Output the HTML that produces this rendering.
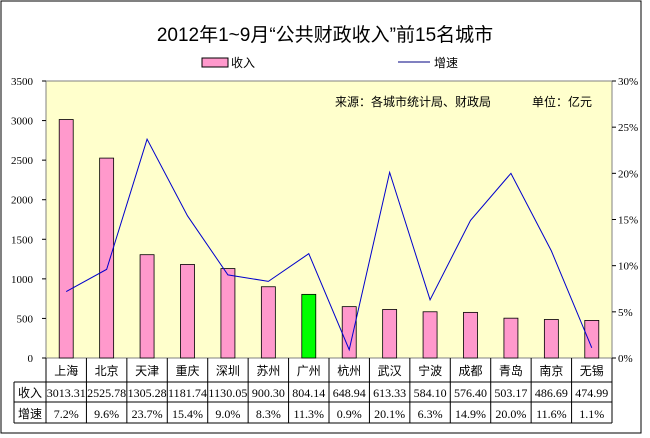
<!DOCTYPE html>
<html><head><meta charset="utf-8"><style>
body{margin:0;background:#fff;}
svg{display:block;font-family:"Liberation Sans","Noto Sans CJK SC",sans-serif;}
.s{font-family:"Liberation Serif","Noto Sans CJK SC",serif;}
</style></head><body>
<svg id="c" width="650" height="438">
<rect x="1" y="1" width="640" height="432" fill="#fff" stroke="#000"/>
<text x="325" y="41" font-size="19" text-anchor="middle">2012年1~9月“公共财政收入”前15名城市</text>
<rect x="202" y="58" width="26" height="9" fill="#ff99cc" stroke="#000"/>
<text x="231" y="67" font-size="12">收入</text>
<line x1="398" y1="62" x2="430" y2="62" stroke="#000080"/>
<text x="434" y="67" font-size="12">增速</text>
<rect x="46" y="81" width="566" height="277" fill="#ffffcc" stroke="#808080"/>
<text x="335" y="106" font-size="12">来源：各城市统计局、财政局</text>
<text x="532" y="106" font-size="12">单位：亿元</text>
<g id="g"></g>
</svg>
<script>
const cities=["上海","北京","天津","重庆","深圳","苏州","广州","杭州","武汉","宁波","成都","青岛","南京","无锡"];
const income=[3013.31,2525.78,1305.28,1181.74,1130.05,900.30,804.14,648.94,613.33,584.10,576.40,503.17,486.69,474.99];
const growth=[7.2,9.6,23.7,15.4,9.0,8.3,11.3,0.9,20.1,6.3,14.9,20.0,11.6,1.1];
const leftTicks=[0,500,1000,1500,2000,2500,3000,3500];
const rightTicks=[0,5,10,15,20,25,30];
const X0=46,X1=612,Y0=358,Y1=81,bw=(X1-X0)/cities.length;
const yL=v=>Y0-(v/3500)*(Y0-Y1), yR=v=>Y0-(v/30)*(Y0-Y1), xc=i=>X0+bw*(i+.5);
const g=document.getElementById('g'),NS="http://www.w3.org/2000/svg";
function mk(t,a,txt){const e=document.createElementNS(NS,t);for(const k in a)e.setAttribute(k,a[k]);if(txt!=null)e.textContent=txt;g.appendChild(e);return e;}
leftTicks.forEach(v=>{mk('line',{x1:X0-4,x2:X0,y1:yL(v),y2:yL(v),stroke:'#000'});
const t=mk('text',{x:33,y:yL(v)+4,'font-size':11,'text-anchor':'end',class:'s'},v);

});
rightTicks.forEach(v=>{mk('line',{x1:X1,x2:X1+4,y1:yR(v),y2:yR(v),stroke:'#000'});
const t=mk('text',{x:618,y:yR(v)+4,'font-size':11,class:'s'},v+'%');

});
income.forEach((v,i)=>{const b=mk('rect',{x:xc(i)-7,y:yL(v),width:14,height:Y0-yL(v),fill:i==6?'#00ff00':'#ff99cc',stroke:'#000','stroke-width':0.8});

});
const p=mk('polyline',{points:growth.map((v,i)=>xc(i)+','+yR(v)).join(' '),fill:'none',stroke:'#0000cc','stroke-width':1});


// table
const rows=[Y0,382,402,423];
mk('line',{x1:14,x2:X1,y1:382,y2:382,stroke:'#000'});
mk('line',{x1:14,x2:X1,y1:402,y2:402,stroke:'#000'});
mk('line',{x1:14,x2:X1,y1:423,y2:423,stroke:'#000'});
mk('line',{x1:14,x2:14,y1:382,y2:423,stroke:'#000'});
mk('line',{x1:X0,x2:X0,y1:Y0,y2:423,stroke:'#000'});
for(let i=0;i<=cities.length;i++){mk('line',{x1:X0+bw*i,x2:X0+bw*i,y1:Y0,y2:423,stroke:'#000'});}
const l1=mk('text',{x:30,y:397,'font-size':12,'text-anchor':'middle'},'收入');


const l2=mk('text',{x:30,y:418,'font-size':12,'text-anchor':'middle'},'增速');


cities.forEach((c,i)=>{
const a=mk('text',{x:xc(i),y:375,'font-size':12,'text-anchor':'middle'},c);


const b=mk('text',{x:xc(i),y:397,'font-size':12,'text-anchor':'middle',class:'s','textLength':income[i]>=1000?39:0},income[i].toFixed(2));
if(income[i]<1000)b.removeAttribute('textLength');


const d=mk('text',{x:xc(i),y:418,'font-size':12,'text-anchor':'middle',class:'s'},growth[i].toFixed(1)+'%');

});
</script>
</body></html>
